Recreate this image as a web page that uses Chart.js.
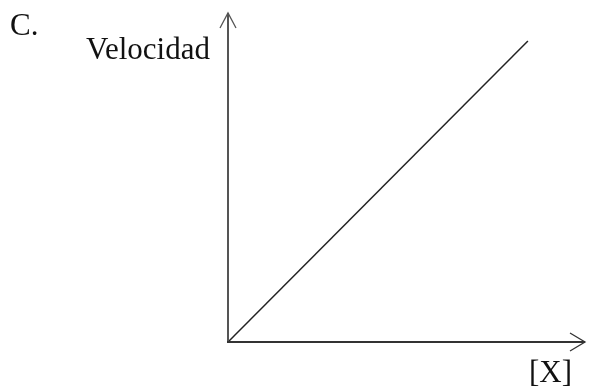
<!DOCTYPE html>
<html>
<head>
<meta charset="utf-8">
<script src="https://cdn.jsdelivr.net/npm/chart.js@4"></script>
<style>
html,body{margin:0;padding:0;background:#fff;}
#wrap{width:592px;height:390px;}
.pre{font-family:"Liberation Serif";position:absolute;left:-1000px;}
</style>
</head>
<body>
<span class="pre">Velocidad</span>
<div id="wrap"><canvas id="c" width="592" height="390"></canvas></div>
<script>
// Data (axis units 0..10)
const xValues = [0, 8.4];
const yValues = [0, 9.15];
const panelLabel = "C.";
const yAxisLabel = "Velocidad";
const xAxisLabel = "[X]";

const points = xValues.map((x, i) => ({x: x, y: yValues[i]}));
const FONT = '31px "Liberation Serif", "Times New Roman", Times, serif';

const axesPlugin = {
  id: 'axesArrows',
  afterDraw(chart) {
    const ctx = chart.ctx;
    const a = chart.chartArea;
    const ox = a.left, oy = a.bottom;
    ctx.save();
    ctx.lineCap = 'butt';
    // y axis
    ctx.strokeStyle = '#555';
    ctx.lineWidth = 2;
    ctx.beginPath();
    ctx.moveTo(ox, oy + 1);
    ctx.lineTo(ox, a.top);
    ctx.stroke();
    ctx.lineWidth = 1.3;
    ctx.beginPath();
    ctx.moveTo(ox - 8, a.top + 15);
    ctx.lineTo(ox, a.top);
    ctx.lineTo(ox + 8, a.top + 15);
    ctx.stroke();
    // x axis
    ctx.strokeStyle = '#333';
    ctx.lineWidth = 2;
    ctx.beginPath();
    ctx.moveTo(ox - 1, oy);
    ctx.lineTo(a.right, oy);
    ctx.stroke();
    ctx.lineWidth = 1.3;
    ctx.beginPath();
    ctx.moveTo(a.right - 15, oy - 9);
    ctx.lineTo(a.right, oy);
    ctx.lineTo(a.right - 15, oy + 9);
    ctx.stroke();
    // text
    ctx.fillStyle = '#111';
    ctx.font = FONT;
    ctx.textBaseline = 'alphabetic';
    ctx.textAlign = 'left';
    ctx.fillText(panelLabel, 10, 35);
    ctx.fillText(yAxisLabel, 86, 59);
    ctx.fillText(xAxisLabel, 529, 382);
    ctx.restore();
  }
};

function build() {
  new Chart(document.getElementById('c'), {
    type: 'scatter',
    data: {
      datasets: [{
        data: points,
        showLine: true,
        borderColor: '#222',
        borderWidth: 1.5,
        pointRadius: 0,
        fill: false
      }]
    },
    options: {
      responsive: false,
      animation: false,
      events: [],
      layout: {padding: {left: 228, right: 7, top: 13, bottom: 48}},
      plugins: {legend: {display: false}, tooltip: {enabled: false}},
      scales: {
        x: {type: 'linear', min: 0, max: 10, display: false},
        y: {type: 'linear', min: 0, max: 10, display: false}
      }
    },
    plugins: [axesPlugin]
  });
}
if (document.fonts && document.fonts.load) {
  document.fonts.load(FONT).then(build, build);
} else {
  build();
}
</script>
</body>
</html>
